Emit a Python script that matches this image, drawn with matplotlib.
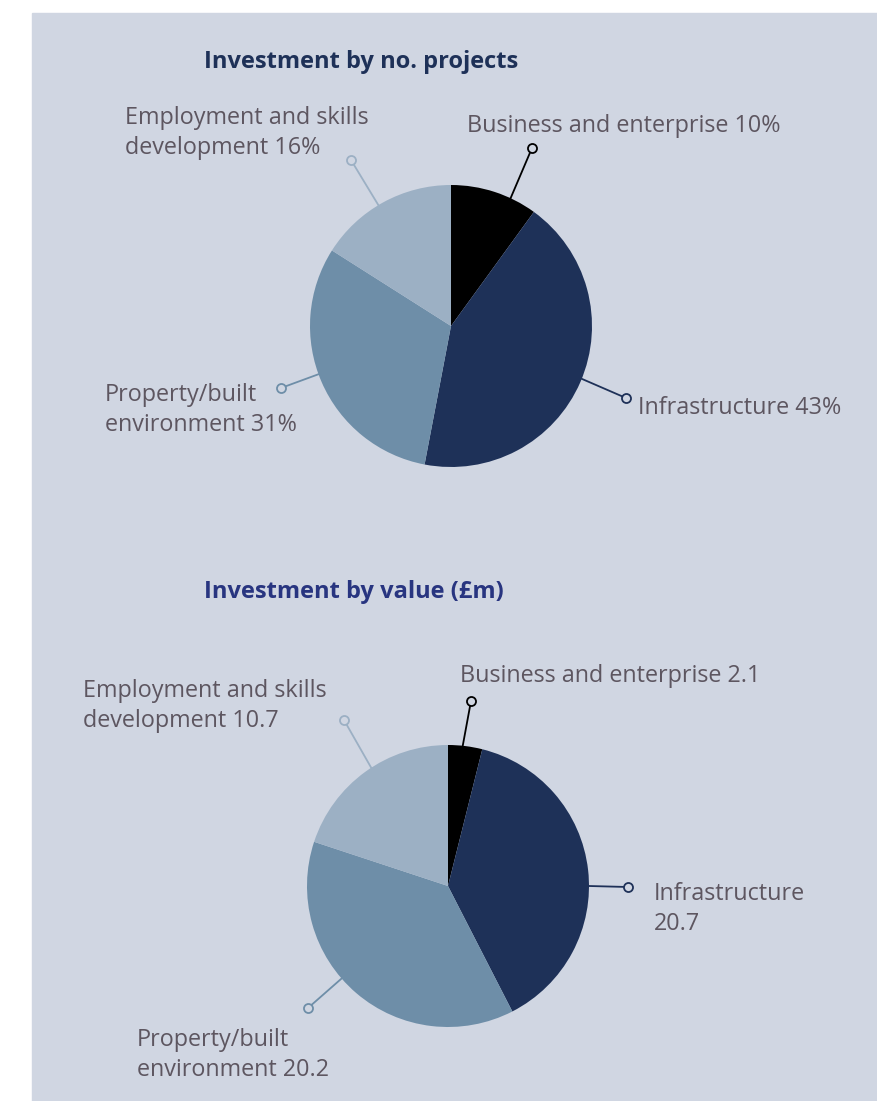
import numpy as np
import matplotlib
matplotlib.use("Agg")
import matplotlib.pyplot as plt
from matplotlib.patches import Rectangle

# dados
categorias = ["Business and enterprise", "Infrastructure",
              "Property/built\nenvironment", "Employment and skills\ndevelopment"]
pct_projetos = [10, 43, 31, 16]
valor_milhoes = [2.1, 20.7, 20.2, 10.7]

CORES = ["#000000", "#1e3158", "#6e8ea8", "#9cb0c4"]
FUNDO = "#d0d6e2"
TEXTO = "#5d5660"
W, H = 877, 1101

plt.rcParams["font.family"] = ["Open Sans", "DejaVu Sans"]

fig = plt.figure(figsize=(W / 100, H / 100), dpi=100)
ax = fig.add_axes([0, 0, 1, 1])


def y(py):
    # coordenadas em pixels contadas a partir do topo
    return H - py


def painel(valores, rotulos, centro, raio, angulos, circulos, pos_txt):
    cx, cy = centro[0], y(centro[1])
    ax.pie(valores, colors=CORES, startangle=90, counterclock=False,
           center=(cx, cy), radius=raio, wedgeprops=dict(linewidth=0), frame=True)
    for cor, ang, (px, py), (tx, ty), txt in zip(CORES, angulos, circulos, pos_txt, rotulos):
        a = np.deg2rad(ang)
        x0, y0 = cx + raio * np.cos(a), cy + raio * np.sin(a)
        ax.plot([x0, px], [y0, y(py)], color=cor, lw=1.3, zorder=3)
        ax.plot(px, y(py), "o", ms=6.5, mfc=FUNDO, mec=cor, mew=1.3, zorder=4)
        ax.text(tx, y(ty), txt, ha="left", va="center", fontsize=16.8,
                color=TEXTO, linespacing=1.32)


ax.add_patch(Rectangle((32, 0), W - 32, H - 13, color=FUNDO, zorder=0))

# painel 1 — nº de projetos
rot1 = [f"{c} {v}%" for c, v in zip(categorias, pct_projetos)]
painel(pct_projetos, rot1, (451, 326), 141,
       [65, -22, -160, 121],
       [(532, 148), (626, 398), (281, 388), (351, 160)],
       [(467, 126), (638, 408), (105, 410), (125, 133)])
ax.text(204, y(62), "Investment by no. projects", ha="left", va="center",
        fontsize=17, fontweight="bold", color="#1e3158")

# painel 2 — valor (£m)
rot2 = [f"{categorias[0]} {valor_milhoes[0]}",
        f"{categorias[1]}\n{valor_milhoes[1]}",
        f"{categorias[2]} {valor_milhoes[2]}",
        f"{categorias[3]} {valor_milhoes[3]}"]
painel(valor_milhoes, rot2, (448, 886), 141,
       [84, 0, -139, 123],
       [(471, 701), (628, 887), (308, 1008), (344, 720)],
       [(460, 676), (654, 909), (137, 1055), (83, 706)])
ax.text(204, y(592), "Investment by value (£m)", ha="left", va="center",
        fontsize=17, fontweight="bold", color="#283580")

ax.set_xlim(0, W)
ax.set_ylim(0, H)
ax.set_aspect("equal")
ax.axis("off")

fig.savefig("out.png", dpi=100, facecolor="white")
